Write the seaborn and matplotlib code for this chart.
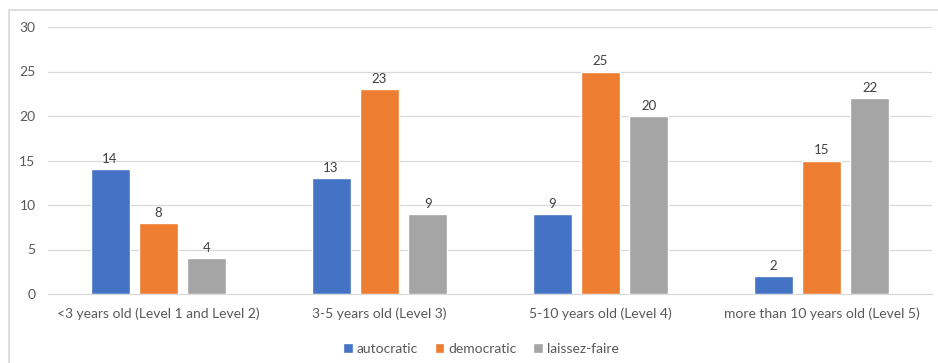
import matplotlib
matplotlib.use("Agg")
import matplotlib.pyplot as plt
import seaborn as sns
import pandas as pd
from matplotlib.patches import Rectangle, Patch

categories = ["<3 years old (Level 1 and Level 2)", "3-5 years old (Level 3)",
              "5-10 years old (Level 4)", "more than 10 years old (Level 5)"]
series = ["autocratic", "democratic", "laissez-faire"]
autocratic = [14, 13, 9, 2]
democratic = [8, 23, 25, 15]
laissez_faire = [4, 9, 20, 22]
colors = ["#4472C4", "#ED7D31", "#A5A5A5"]

rows = []
for s, vals in zip(series, [autocratic, democratic, laissez_faire]):
    for c, v in zip(categories, vals):
        rows.append({"category": c, "style": s, "value": v})
df = pd.DataFrame(rows)

sns.set_style("white")
plt.rcParams['font.family'] = ['Lato', 'DejaVu Sans']

fig = plt.figure(figsize=(9.38, 3.63), dpi=100)
ax = fig.add_axes([48/938, 1-294/363, (932-48)/938, (294-27)/363])

sns.barplot(data=df, x="category", y="value", hue="style", order=categories,
            hue_order=series, palette=colors, width=0.658, gap=0.196,
            ax=ax, legend=False, saturation=1)

for cont in ax.containers:
    ax.bar_label(cont, padding=3, fontsize=9.5, color="#404040")

ax.set_ylim(0, 30)
ax.set_yticks(range(0, 31, 5))
ax.set_xlim(-0.5, 3.5)
ax.set_xlabel("")
ax.set_ylabel("")
ax.grid(axis="y", color="#d9d9d9", linewidth=0.9)
ax.set_axisbelow(True)
for sp in ["top", "right", "left"]:
    ax.spines[sp].set_visible(False)
ax.spines["bottom"].set_color("#d9d9d9")
ax.tick_params(axis="both", length=0, labelsize=10, colors="#595959")
ax.tick_params(axis="x", pad=10)
ax.tick_params(axis="y", pad=9)

handles = [Patch(facecolor=c, label=s) for c, s in zip(colors, series)]
fig.legend(handles=handles, loc="center", bbox_to_anchor=(481/938, 1-349/363), ncol=3,
           frameon=False, fontsize=10, handlelength=0.7, handleheight=0.7,
           handletextpad=0.3, columnspacing=1.2, labelcolor="#595959")

fig.patches.append(Rectangle((9/938, -0.1), 1.2, 1.1-10/363, transform=fig.transFigure,
                             fill=False, edgecolor="#d9d9d9", linewidth=1.2))

fig.savefig("out.png", dpi=100)
